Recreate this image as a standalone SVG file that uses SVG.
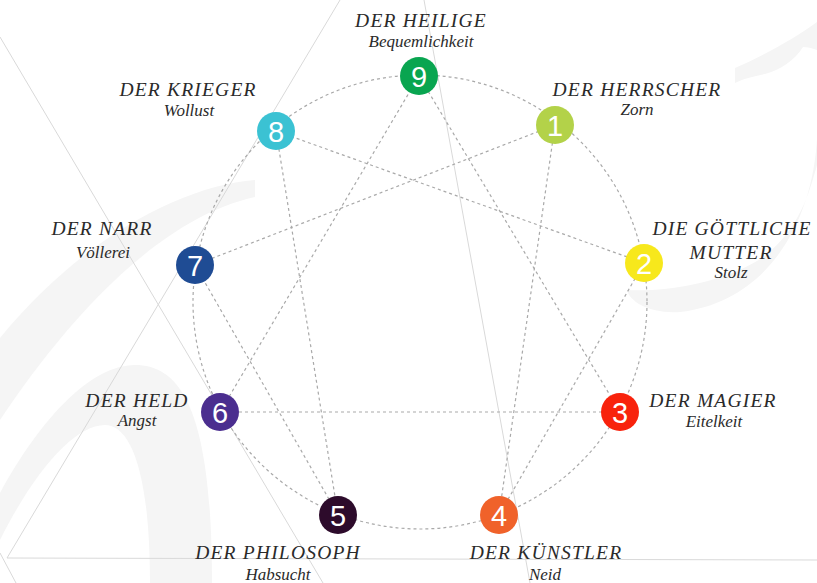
<svg xmlns="http://www.w3.org/2000/svg" width="817" height="583" viewBox="0 0 817 583">
<style>
.bg{fill:none;stroke:#d9d9d9;stroke-width:1}
.sw{fill:#f5f5f5;stroke:none}
.dash{fill:none;stroke:#a9a9a9;stroke-width:1.2;stroke-dasharray:3 3}
.t{font-family:"Liberation Serif","Times New Roman",serif;font-style:italic;font-size:19.5px;letter-spacing:1.2px;fill:#2a2a2a;text-anchor:middle}
.s{font-family:"Liberation Serif","Times New Roman",serif;font-style:italic;font-size:17px;fill:#2a2a2a;text-anchor:middle}
.n{font-family:"Liberation Sans",Arial,sans-serif;font-size:29px;fill:#ffffff;text-anchor:middle}
</style>
<rect width="817" height="583" fill="#ffffff"/>
<g id="background">
<path class="sw" d="M255,180 C180,186 80,240 0,338 L0,420 C40,360 140,222 255,197 Z"/>
<path class="sw" d="M0,493 C40,420 90,365 135,365 C185,365 212,420 212,583 L150,583 C150,470 130,425 105,425 C75,425 35,470 0,540 Z"/>
<path class="sw" d="M817,110 C822,200 780,300 680,312 C650,314 630,302 627,290 C660,292 720,285 762,258 C800,230 810,190 817,165 Z"/>
<path class="sw" d="M735,68 C765,55 795,38 817,22 L817,50 C812,48 807,47 803,47 C795,60 780,70 765,74 C752,77 742,79 735,83 Z"/>
<line class="bg" x1="0" y1="37" x2="323" y2="583"/>
<line class="bg" x1="340" y1="0" x2="7" y2="558"/>
<line class="bg" x1="7" y1="558" x2="817" y2="560"/>
<line class="bg" x1="0" y1="553" x2="16" y2="583"/>
<line class="bg" x1="424" y1="0" x2="530" y2="583"/>
</g>
<g id="connectors">
<circle class="dash" cx="420" cy="302" r="227"/>
<line class="dash" x1="419" y1="76" x2="620" y2="412"/>
<line class="dash" x1="620" y1="412" x2="220" y2="412"/>
<line class="dash" x1="220" y1="412" x2="419" y2="76"/>
<line class="dash" x1="555" y1="125" x2="499" y2="515"/>
<line class="dash" x1="499" y1="515" x2="644" y2="263"/>
<line class="dash" x1="644" y1="263" x2="276" y2="131"/>
<line class="dash" x1="276" y1="131" x2="338" y2="515"/>
<line class="dash" x1="338" y1="515" x2="195" y2="265"/>
<line class="dash" x1="195" y1="265" x2="555" y2="125"/>
</g>
<g id="node9">
<circle cx="419" cy="76" r="19" fill="#09a550"/>
<text class="n" x="419" y="86.5">9</text>
<text class="t" x="421" y="27">DER HEILIGE</text>
<text class="s" x="421" y="47">Bequemlichkeit</text>
</g>
<g id="node1">
<circle cx="555" cy="125" r="19" fill="#b3d249"/>
<text class="n" x="555" y="135.5">1</text>
<text class="t" x="637" y="96">DER HERRSCHER</text>
<text class="s" x="637" y="115">Zorn</text>
</g>
<g id="node2">
<circle cx="644" cy="263" r="19" fill="#f7e81c"/>
<text class="n" x="644" y="273.5">2</text>
<text class="t" x="732" y="235">DIE GÖTTLICHE</text>
<text class="t" x="731" y="259">MUTTER</text>
<text class="s" x="731" y="278">Stolz</text>
</g>
<g id="node3">
<circle cx="620" cy="412" r="19" fill="#f8220c"/>
<text class="n" x="620" y="422.5">3</text>
<text class="t" x="713" y="407">DER MAGIER</text>
<text class="s" x="714" y="427">Eitelkeit</text>
</g>
<g id="node4">
<circle cx="499" cy="515" r="19" fill="#f0622a"/>
<text class="n" x="499" y="525.5">4</text>
<text class="t" x="546" y="559">DER KÜNSTLER</text>
<text class="s" x="545" y="580">Neid</text>
</g>
<g id="node5">
<circle cx="338" cy="515" r="19" fill="#2d0b2b"/>
<text class="n" x="338" y="525.5">5</text>
<text class="t" x="278" y="559">DER PHILOSOPH</text>
<text class="s" x="278" y="580">Habsucht</text>
</g>
<g id="node6">
<circle cx="220" cy="412" r="19" fill="#4b2e8f"/>
<text class="n" x="220" y="422.5">6</text>
<text class="t" x="137" y="407">DER HELD</text>
<text class="s" x="137" y="426">Angst</text>
</g>
<g id="node7">
<circle cx="195" cy="265" r="19" fill="#1f4c94"/>
<text class="n" x="195" y="275.5">7</text>
<text class="t" x="102" y="235">DER NARR</text>
<text class="s" x="103" y="258">Völlerei</text>
</g>
<g id="node8">
<circle cx="276" cy="131" r="19" fill="#3bc2d3"/>
<text class="n" x="276" y="141.5">8</text>
<text class="t" x="188" y="96">DER KRIEGER</text>
<text class="s" x="189" y="116">Wollust</text>
</g>
</svg>
